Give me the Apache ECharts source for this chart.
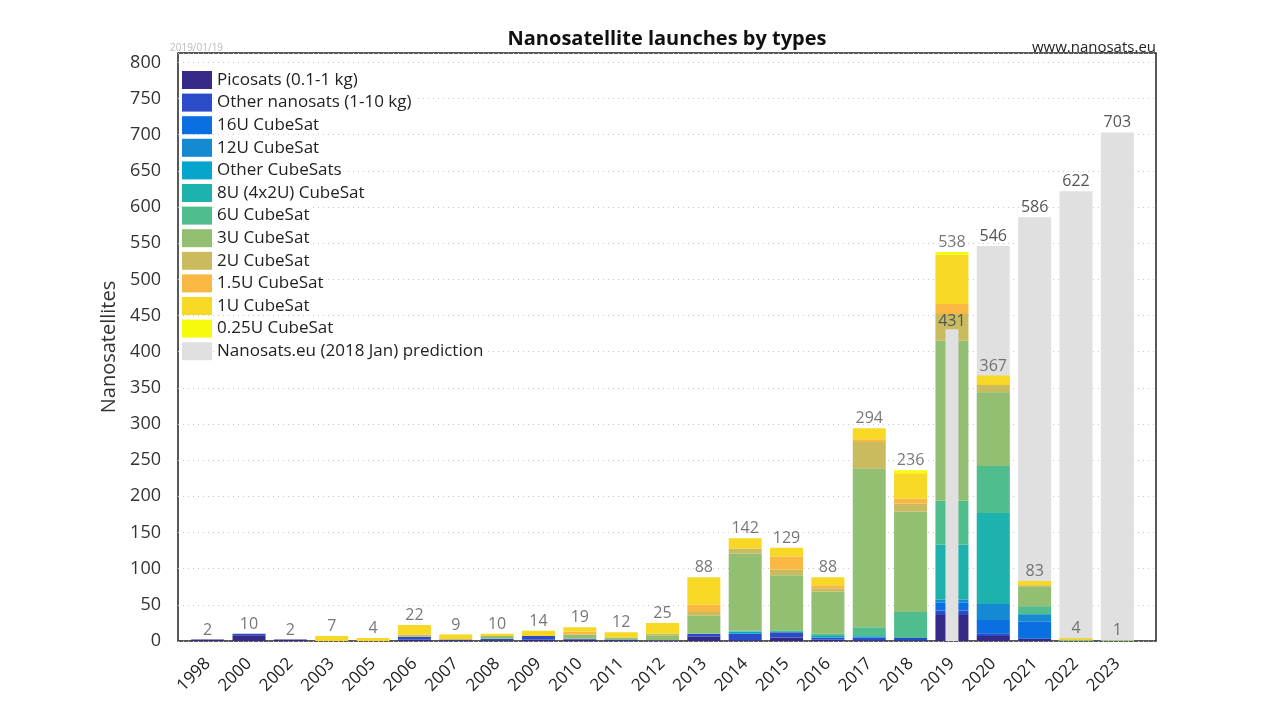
<!DOCTYPE html>
<html>
<head>
<meta charset="utf-8">
<script src="https://cdn.jsdelivr.net/npm/echarts@6/dist/echarts.min.js"></script>
<style>html,body{margin:0;padding:0;background:#fff}#c{width:1280px;height:720px}</style>
</head>
<body>
<div id="c"></div>
<script>
// ---- data ----
const years = ['1998','2000','2002','2003','2005','2006','2007','2008','2009','2010','2011','2012','2013','2014','2015','2016','2017','2018','2019','2020','2021','2022','2023'];
const seriesNames = ['Picosats (0.1-1 kg)','Other nanosats (1-10 kg)','16U CubeSat','12U CubeSat','Other CubeSats','8U (4x2U) CubeSat','6U CubeSat','3U CubeSat','2U CubeSat','1.5U CubeSat','1U CubeSat','0.25U CubeSat'];
const picosats     = [2,8,2,0,0,2,1,1,2,2,1,1,6,1,5,2,1,1,36,7,3,0,0];
const otherNanos   = [0,2,0,0,0,4,1,2,5,1,1,0,4,9,7,2,4,3,6,3,0,0,0];
const cube16U      = [0,0,0,0,0,0,0,0,0,0,0,0,0,0,0,0,0,0,11,19,24,0,0];
const cube12U      = [0,0,0,0,0,0,0,0,0,0,0,0,0,0,0,1,1,0,4,22,10,0,0];
const cubeOther    = [0,0,0,0,0,0,0,0,0,0,0,0,0,3,0,2,1,0,0,0,0,0,0];
const cube8U       = [0,0,0,0,0,0,0,0,0,0,0,0,0,0,0,0,0,0,76,126,0,0,0];
const cube6U       = [0,0,0,0,0,0,0,0,0,0,0,0,0,1,3,3,12,36,61,65,11,0,0];
const cube3U       = [0,0,0,0,0,0,0,4,0,6,3,7,25,107,76,58,220,139,221,102,27,2,1];
const cube2U       = [0,0,0,0,0,3,0,0,0,0,0,2,5,7,8,5,36,11,37,10,2,0,0];
const cube15U      = [0,0,0,0,0,0,0,0,0,4,0,0,10,0,18,4,4,7,14,0,0,0,0];
const cube1U       = [0,0,0,7,4,13,7,3,7,6,7,15,38,14,12,11,15,35,68,13,6,2,0];
const cube025U     = [0,0,0,0,0,0,0,0,0,0,0,0,0,0,0,0,0,4,4,0,0,0,0];
const totals       = [2,10,2,7,4,22,9,10,14,19,12,25,88,142,129,88,294,236,538,367,83,4,1];
const prediction   = ['-','-','-','-','-','-','-','-','-','-','-','-','-','-','-','-','-','-','-',546,586,622,703];
const prediction2019 = ['-','-','-','-','-','-','-','-','-','-','-','-','-','-','-','-','-','-',431,'-','-','-','-'];
const yTicks = [0,50,100,150,200,250,300,350,400,450,500,550,600,650,700,750,800];

const stackData = [picosats,otherNanos,cube16U,cube12U,cubeOther,cube8U,cube6U,cube3U,cube2U,cube15U,cube1U,cube025U];
const colors = ['#352a87','#2c4bc9','#0a6fe0','#1589d2','#06a5cc','#1db2ae','#50bd8f','#93bf73','#c9bb5e','#f8b842','#f6d825','#f8fa0d'];
const predName = 'Nanosats.eu (2018 Jan) prediction';
const predColor = '#e0e0e0';

const FONT = '"Open Sans", Lato, sans-serif';
const chart = echarts.init(document.getElementById('c'));

const labelStyle = {show: true, position: 'top', fontFamily: FONT, fontSize: 16, color: '#555'};
const series = [];
series.push({
  name: predName, type: 'bar', xAxisIndex: 1, yAxisIndex: 1, stack: 'pred',
  barWidth: 33, barGap: '-100%', z: 1,
  itemStyle: {color: predColor},
  label: Object.assign({distance: 2}, labelStyle),
  data: prediction
});
stackData.forEach((d, i) => {
  series.push({
    name: seriesNames[i], type: 'bar', xAxisIndex: 1, yAxisIndex: 1, stack: 'total',
    barWidth: 33, barGap: '-100%', z: 2,
    itemStyle: {color: colors[i]},
    data: d.map(v => v === 0 ? '-' : v)
  });
});
series.push({
  name: 'totals', type: 'scatter', xAxisIndex: 1, yAxisIndex: 1, z: 4,
  symbolSize: 1, itemStyle: {color: 'rgba(0,0,0,0)'},
  label: Object.assign({distance: 1}, labelStyle),
  silent: true,
  data: totals
});
series.push({
  name: predName, type: 'bar', xAxisIndex: 2, yAxisIndex: 1,
  barWidth: 13, z: 3,
  itemStyle: {color: predColor},
  label: Object.assign({distance: 0}, labelStyle),
  data: prediction2019
});

chart.setOption({
  animation: false,
  backgroundColor: '#fff',
  title: [
    {text: 'Nanosatellite launches by types', left: 662, textAlign: 'center', top: 24,
     textStyle: {fontFamily: FONT, fontSize: 20, fontWeight: 'bold', color: '#111'}},
    {text: '2019/01/19', left: 165, top: 38, textStyle: {fontFamily: FONT, fontSize: 10, fontWeight: 'normal', color: '#bbb'}},
    {text: 'www.nanosats.eu', right: 119, top: 35, textStyle: {fontFamily: FONT, fontSize: 15, fontWeight: 'normal', color: '#222'}}
  ],
  legend: {
    orient: 'vertical', left: 177, top: 66,
    itemWidth: 30, itemHeight: 18, itemGap: 4.6,
    icon: 'rect',
    data: seriesNames.concat([predName]),
    textStyle: {fontFamily: FONT, fontSize: 17, lineHeight: 18, color: '#222', backgroundColor: '#fff', padding: [0, 2, 0, 0]}
  },
  grid: [
    {left: 178, right: 124, top: 53, bottom: 79, show: true, borderColor: '#222', borderWidth: 1.5, backgroundColor: 'transparent'},
    {left: 187, right: 142, top: 53, bottom: 79}
  ],
  xAxis: [
    {type: 'value', gridIndex: 0, min: 0, max: 1, show: false},
    {type: 'category', gridIndex: 1, data: years,
     axisLine: {show: false}, axisTick: {show: false},
     axisLabel: {rotate: 45, interval: 0, margin: 20, fontFamily: FONT, fontSize: 17, color: '#222'}},
    {type: 'category', gridIndex: 1, data: years, show: false}
  ],
  yAxis: [
    {type: 'value', gridIndex: 0, min: 0, max: 813, interval: 50,
     name: 'Nanosatellites', nameLocation: 'middle', nameGap: 56,
     nameTextStyle: {fontFamily: FONT, fontSize: 20, color: '#333'},
     axisLine: {show: false}, axisTick: {show: false},
     axisLabel: {margin: 17, fontFamily: FONT, fontSize: 18, color: '#333',
       formatter: v => yTicks.indexOf(v) >= 0 ? String(v) : ''},
     splitLine: {show: true, lineStyle: {color: '#c8c8c8', type: [1, 4], width: 1}}},
    {type: 'value', gridIndex: 1, min: 0, max: 813, show: false}
  ],
  series: series
});
</script>
</body>
</html>
